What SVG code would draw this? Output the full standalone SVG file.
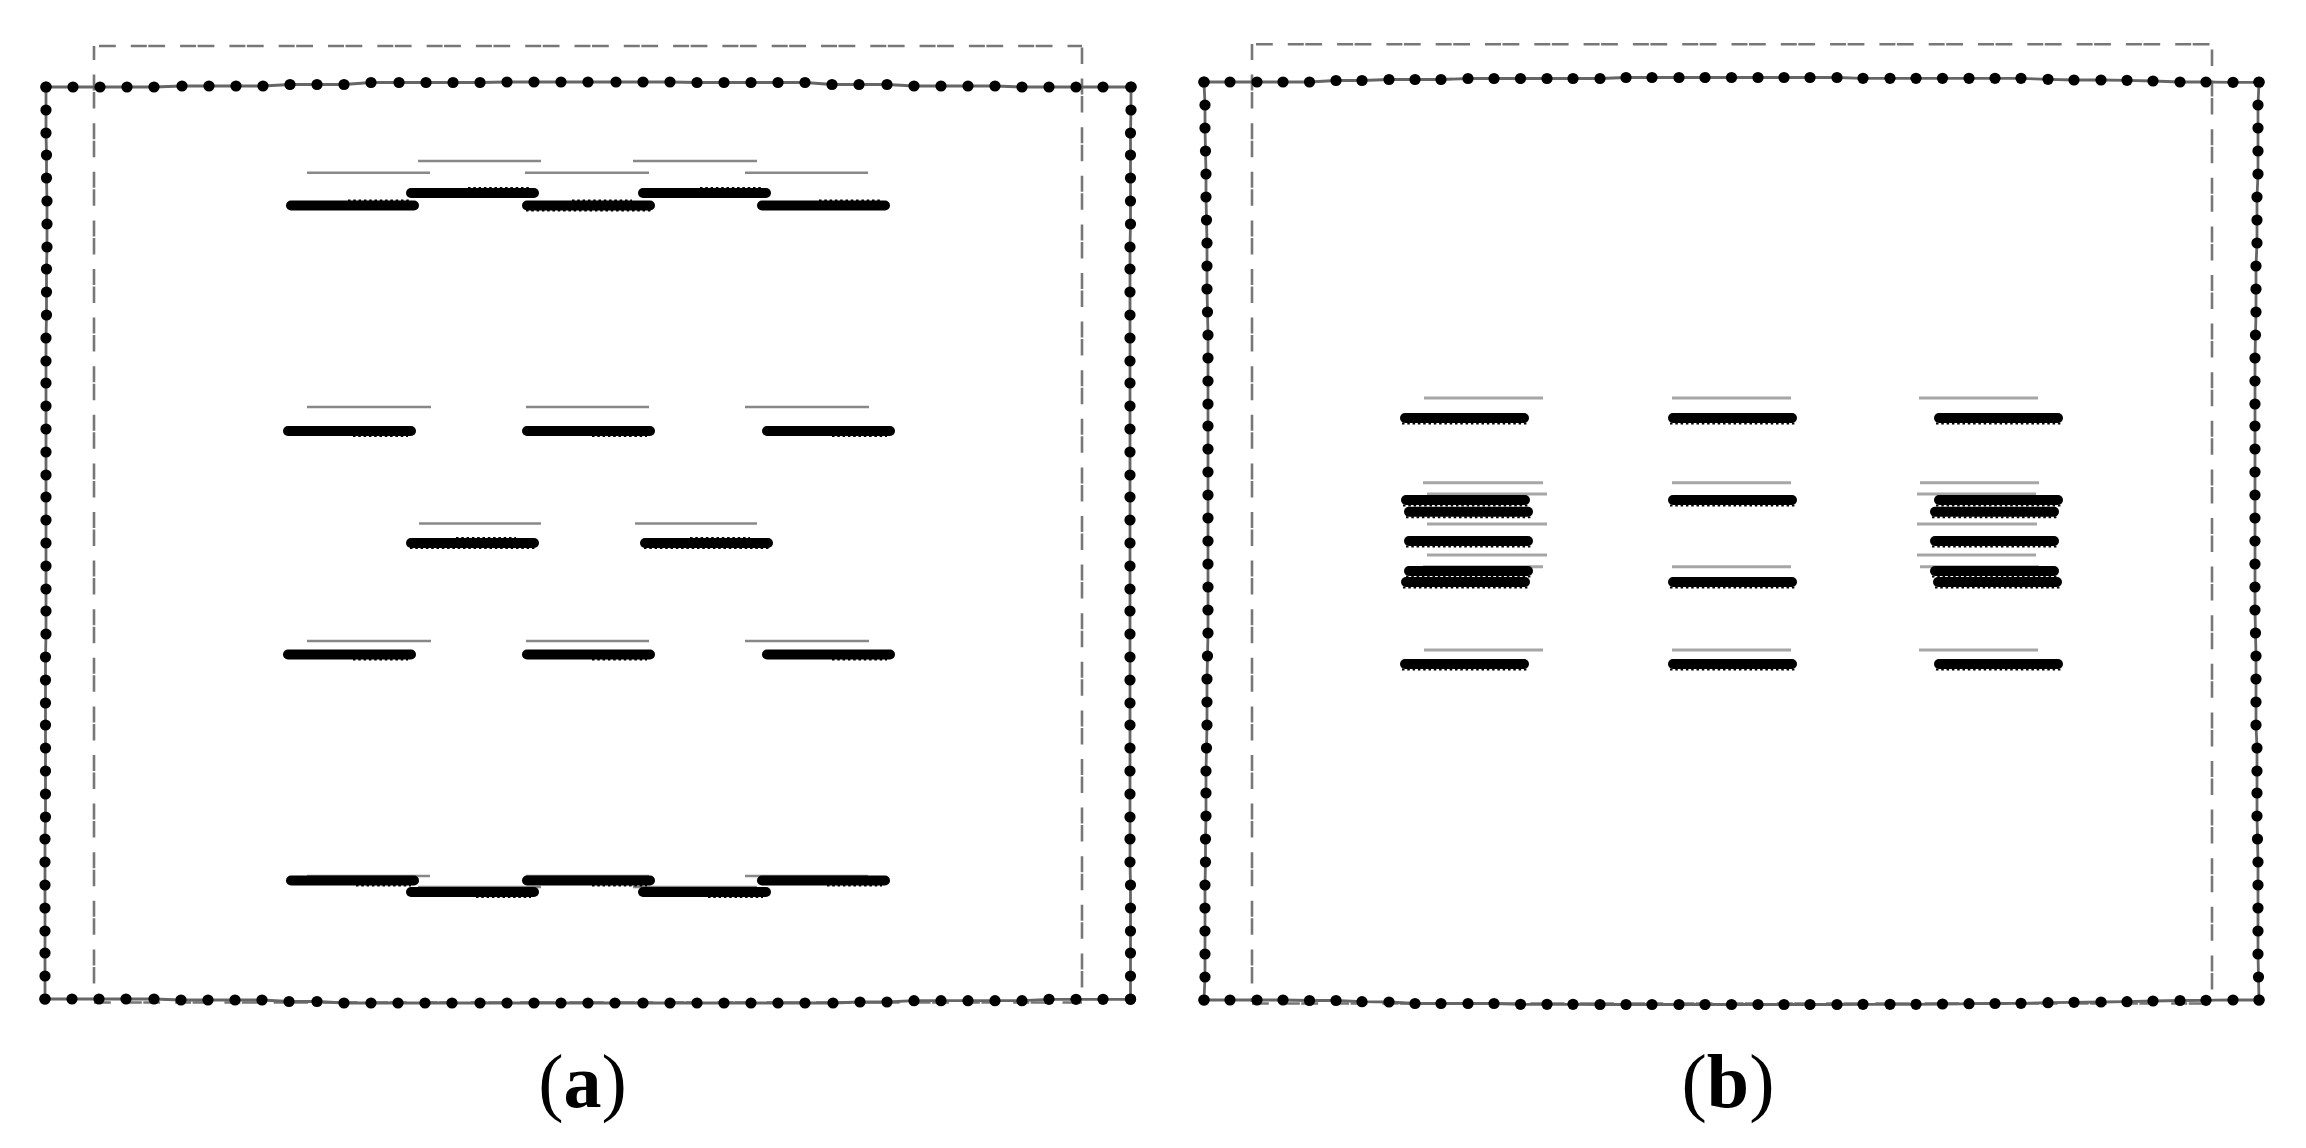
<svg xmlns="http://www.w3.org/2000/svg" width="2306" height="1148" viewBox="0 0 2306 1148">
<style>
.f{fill:none;stroke:#666;stroke-width:2.8;marker-start:url(#d);marker-mid:url(#d);marker-end:url(#d)}
.h{fill:none;stroke:#777;stroke-width:2.4;stroke-dasharray:16 1.5 16.8 15}
.v{fill:none;stroke:#777;stroke-width:2.6;stroke-dasharray:16 1.5 16.5 14.6}
.g{stroke:#888;stroke-width:2.6}
.gb{stroke:#a6a6a6;stroke-width:3}
.b{stroke:#000;stroke-width:10;stroke-linecap:round}
.s{stroke:#000;stroke-width:2;stroke-dasharray:2.5 2.8}
.p{filter:url(#soft)}
text{font-family:"Liberation Serif","Times New Roman",serif;font-size:76px;fill:#000;text-anchor:middle}
.w{font-weight:bold}
</style>
<defs>
<filter id="soft" filterUnits="userSpaceOnUse" x="0" y="0" width="2306" height="1148"><feGaussianBlur stdDeviation="0.6"/></filter>
<marker id="d" markerUnits="userSpaceOnUse" markerWidth="13" markerHeight="13" refX="6.5" refY="6.5" viewBox="0 0 13 13"><circle cx="6.5" cy="6.5" r="5.6" fill="#000"/></marker>
<g id="a1"><line class="b" x1="5" y1="0" x2="128" y2="0"/><line class="s" x1="62" y1="-5" x2="124" y2="-5"/></g>
<g id="a2"><line class="b" x1="5" y1="0" x2="128" y2="0"/><line class="s" x1="4" y1="5" x2="130" y2="5"/><line class="s" x1="50" y1="-5" x2="110" y2="-5"/></g>
<g id="a3"><line class="b" x1="5" y1="0" x2="128" y2="0"/><line class="s" x1="70" y1="5" x2="125" y2="5"/></g>
<g id="b1"><line class="b" x1="5" y1="0" x2="124" y2="0"/><line class="s" x1="2" y1="5.5" x2="128" y2="5.5"/></g>
</defs>

<g id="panel-a" class="p">
<g id="a-dashed">
<path class="h" stroke-dashoffset="17.5" d="M99 46H1082"/>
<path class="v" stroke-dashoffset="20" d="M94 46V1000"/>
<path class="v" stroke-dashoffset="16" d="M1082 46V1000"/>
<path class="h" stroke-dashoffset="17.5" d="M94 1002.5H1082"/>
</g>
<g id="a-frame">
<polyline class="f" points="46,87 73,87 100,87 127,87 154,87 182,86 209,86 236,86 263,86 290,84.5 317,84.5 344,84.5 371,82.5 399,82.5 426,82.5 453,82.5 480,82.5 507,82 534,82 561,82 588,82 616,82 643,82 670,82 697,82.5 724,82.5 751,82.5 778,82.5 805,82.5 832,84.5 859,84.5 887,84.5 914,86 941,86 968,86 995,86 1022,87 1049,87 1076,87 1103,87 1131,87"/>
<polyline class="f" points="1131,87 1131,110 1130.5,133 1130.5,155 1130.5,178 1130.5,201 1130.5,224 1130,247 1130,269 1130,292 1130,315 1130,338 1130,361 1130,383 1130,406 1130,429 1130,452 1130,475 1130,497 1130,520 1130,543 1130,566 1130,589 1130,611 1130,634 1130,657 1130,680 1130,703 1130,725 1130,748 1130,771 1130,794 1130,817 1130,839 1130,862 1130.5,885 1130.5,908 1130.5,931 1130.5,953 1130.5,976 1130.5,999"/>
<polyline class="f" points="45,999 72,999 99,999 126,999 154,999 181,1000 208,1000 235,1000 262,1000 289,1001.5 317,1001.5 344,1003 371,1003 398,1003 425,1003 452,1003 480,1003 507,1003 534,1003 561,1003 588,1003 615,1003 643,1003 670,1003 697,1003 724,1003 751,1003 778,1003 805,1003 833,1003 860,1002 887,1002 914,1000.7 941,1000.7 968,1000.7 995,1000.7 1022,1000.7 1049,999.3 1076,999.3 1103,999.3 1130.5,999.3"/>
<polyline class="f" points="46,87 46,110 46,133 46.5,155 46.5,178 47,201 47,224 47,247 46.5,269 46.5,292 46.5,315 46,338 46,361 46,383 46,406 46,429 46,452 46,475 46,497 46,520 46,543 46,566 46,589 46,611 46,634 45.5,657 45.5,680 45.5,703 45.5,725 45.5,748 45.5,771 45.5,794 45.5,817 45,839 45,862 45,885 45,908 45,931 45,953 45,976 45,999"/>
</g>
<g id="a-reference-lines">
<line class="g" x1="418" y1="161" x2="541" y2="161"/><line class="g" x1="633" y1="161" x2="757" y2="161"/>
<line class="g" x1="307" y1="172.7" x2="430" y2="172.7"/><line class="g" x1="525" y1="172.7" x2="649" y2="172.7"/><line class="g" x1="745" y1="172.7" x2="868" y2="172.7"/>
<line class="g" x1="307" y1="407" x2="431" y2="407"/><line class="g" x1="526" y1="407" x2="649" y2="407"/><line class="g" x1="745" y1="407" x2="869" y2="407"/>
<line class="g" x1="419" y1="523.5" x2="541" y2="523.5"/><line class="g" x1="635" y1="523.5" x2="757" y2="523.5"/>
<line class="g" x1="307" y1="641" x2="431" y2="641"/><line class="g" x1="526" y1="641" x2="649" y2="641"/><line class="g" x1="745" y1="641" x2="869" y2="641"/>
<line class="g" x1="307" y1="876" x2="430" y2="876"/><line class="g" x1="526" y1="876" x2="649" y2="876"/><line class="g" x1="745" y1="876" x2="868" y2="876"/>
<line class="g" x1="418" y1="887" x2="541" y2="887"/><line class="g" x1="633" y1="887" x2="757" y2="887"/>
</g>
<g id="a-bars">
<use href="#a1" x="406" y="193"/><use href="#a1" x="638" y="193"/>
<use href="#a1" x="286" y="205.5"/><use href="#a2" x="522" y="205.5"/><use href="#a1" x="757" y="205.5"/>
<use href="#a3" x="283" y="431"/><use href="#a3" x="522" y="431"/><use href="#a3" x="762" y="431"/>
<use href="#a2" x="406" y="543"/><use href="#a2" x="640" y="543"/>
<use href="#a3" x="283" y="654.5"/><use href="#a3" x="522" y="654.5"/><use href="#a3" x="762" y="654.5"/>
<use href="#a3" x="286" y="880.5"/><use href="#a3" x="522" y="880.5"/><use href="#a3" x="757" y="880.5"/>
<use href="#a3" x="406" y="892"/><use href="#a3" x="638" y="892"/>
</g>
<text x="582.5" y="1107">(<tspan class="w">a</tspan>)</text>
</g>

<g id="panel-b" class="p">
<g id="b-dashed">
<path class="h" stroke-dashoffset="17.5" d="M1256 44.3H2212"/>
<path class="v" stroke-dashoffset="18" d="M1252 44V1002"/>
<path class="v" stroke-dashoffset="16" d="M2212 48V1000"/>
<path class="h" stroke-dashoffset="17.5" d="M1252 1003.5H2212"/>
</g>
<g id="b-frame">
<polyline class="f" points="1204,82 1230,82 1257,82 1283,82 1309.5,82 1336,80.5 1362,80.5 1389,79.5 1415,79.5 1441,79.5 1468,78.5 1494,78.5 1520.5,78.5 1547,78.5 1573,78.5 1600,78.5 1626,77.5 1652,77.5 1679,77.5 1705,77.5 1731.5,77.5 1758,77.5 1784,77.5 1810,77.5 1837,77.5 1863,78.3 1890,78.3 1916,78.3 1942.5,78.3 1969,78.3 1995,78.3 2021,78.3 2048,79.3 2074,80 2101,80 2127,80.3 2153,81 2180,82 2206,82 2233,82.3 2259,82.3"/>
<polyline class="f" points="2259,82 2258,105 2258,128 2258,151 2258,174 2257,197 2257,220 2257,243 2256,266 2256,289 2256,312 2255.5,335 2255,358 2255,381 2255,404 2255,426 2255,449 2255,472 2255,495 2255,518 2255,541 2255,564 2255,587 2255,610 2255.5,633 2256,656 2256,679 2256,702 2256,725 2257,748 2257,771 2257,793 2257,816 2257.5,839 2258,862 2258,885 2258,908 2258,931 2258,954 2258.5,977 2259,1000"/>
<polyline class="f" points="1204,1000 1230,1000 1257,1000 1283,1000 1309.5,1000.5 1336,1000.5 1362,1001.7 1389,1002 1415,1003.5 1441,1003.5 1468,1003.5 1494,1003.5 1520.5,1004.3 1547,1004.3 1573,1004.3 1600,1004.5 1626,1004.5 1652,1004.5 1679,1004.5 1705,1004.5 1731.5,1004.5 1758,1004.5 1784,1004.5 1810,1004.5 1837,1004.5 1863,1004.3 1890,1004.3 1916,1004.3 1942.5,1004 1969,1003.7 1995,1003.5 2021,1003.3 2048,1002.7 2074,1002.3 2101,1002 2127,1001.7 2153,1001 2180,1000.5 2206,1000.3 2233,1000 2259,1000"/>
<polyline class="f" points="1204,82 1205,105 1205,128 1205.5,151 1206,174 1206,197 1206.5,220 1207,243 1207,266 1207,289 1207.5,312 1208,335 1208,358 1208,381 1208,404 1208,426 1208,449 1208,472 1208,495 1208,518 1208,541 1208,564 1208,587 1208,610 1208,633 1207.5,656 1207,679 1207,702 1207,725 1206.5,748 1206,771 1206,793 1206,816 1205.5,839 1205.5,862 1205,885 1205,908 1205,931 1205,954 1205,977 1204,1000"/>
</g>
<g id="b-reference-lines">
<line class="gb" x1="1424" y1="398" x2="1543" y2="398"/><line class="gb" x1="1672" y1="398" x2="1791" y2="398"/><line class="gb" x1="1919" y1="398" x2="2038" y2="398"/>
<line class="gb" x1="1423" y1="482.7" x2="1543" y2="482.7"/><line class="gb" x1="1672" y1="482.7" x2="1791" y2="482.7"/><line class="gb" x1="1920" y1="482.7" x2="2039" y2="482.7"/>
<line class="gb" x1="1427" y1="494" x2="1547" y2="494"/><line class="gb" x1="1917" y1="494" x2="2036" y2="494"/>
<line class="gb" x1="1427" y1="524" x2="1547" y2="524"/><line class="gb" x1="1917" y1="524" x2="2037" y2="524"/>
<line class="gb" x1="1427" y1="555" x2="1547" y2="555"/><line class="gb" x1="1917" y1="555" x2="2036" y2="555"/>
<line class="gb" x1="1423" y1="566.7" x2="1543" y2="566.7"/><line class="gb" x1="1672" y1="566.7" x2="1791" y2="566.7"/><line class="gb" x1="1920" y1="566.7" x2="2039" y2="566.7"/>
<line class="gb" x1="1424" y1="650" x2="1543" y2="650"/><line class="gb" x1="1672" y1="650" x2="1791" y2="650"/><line class="gb" x1="1919" y1="650" x2="2038" y2="650"/>
</g>
<g id="b-bars">
<use href="#b1" x="1400" y="418"/><use href="#b1" x="1668" y="418"/><use href="#b1" x="1934" y="418"/>
<use href="#b1" x="1401" y="500"/><use href="#b1" x="1668" y="500"/><use href="#b1" x="1934" y="500"/>
<use href="#b1" x="1404" y="511.7"/><use href="#b1" x="1930" y="511.7"/>
<use href="#b1" x="1404" y="541"/><use href="#b1" x="1930" y="541"/>
<use href="#b1" x="1404" y="571"/><use href="#b1" x="1930" y="571"/>
<use href="#b1" x="1401" y="582"/><use href="#b1" x="1668" y="582"/><use href="#b1" x="1933" y="582"/>
<use href="#b1" x="1400" y="664"/><use href="#b1" x="1668" y="664"/><use href="#b1" x="1934" y="664"/>
</g>
<text x="1728" y="1107">(<tspan class="w">b</tspan>)</text>
</g>
</svg>
